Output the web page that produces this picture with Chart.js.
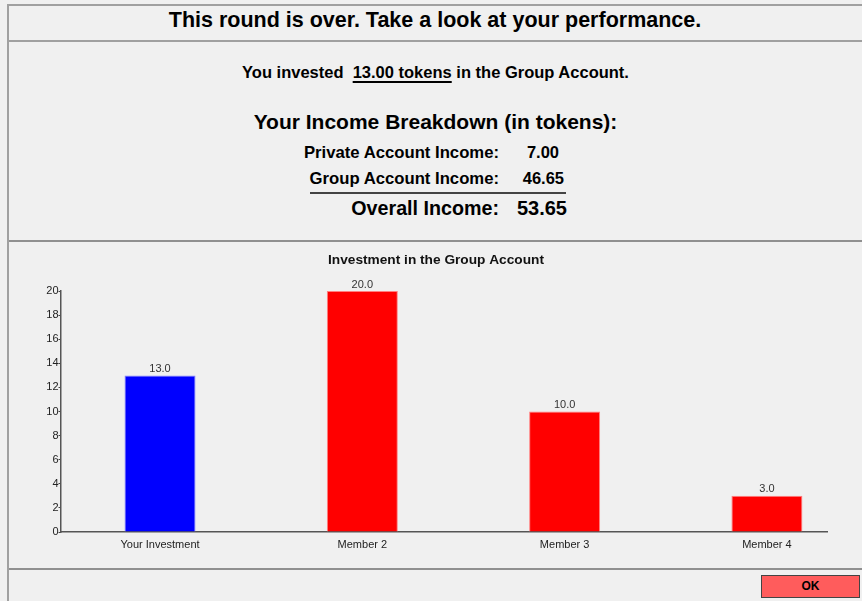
<!DOCTYPE html>
<html>
<head>
  <title>Round Results</title>
  <script src="https://cdn.jsdelivr.net/npm/chart.js"></script>
  <style>
    body { margin: 0; width: 862px; height: 601px; background: #f0f0f0; font-family: "Liberation Sans", Arial, sans-serif; overflow: hidden; position: relative; }
    .abs { position: absolute; }
    #topline { left: 8px; top: 4px; right: 0; height: 0; border-top: 2px solid #a0a0a0; }
    #leftline { left: 7px; top: 4px; bottom: 0; width: 0; border-left: 2px solid #a0a0a0; }
    #headline { left: 8px; top: 40px; right: 0; border-top: 2px solid #a0a0a0; }
    #div1 { left: 9px; top: 240px; right: 0; border-top: 2px solid #909090; }
    #div2 { left: 9px; top: 568px; right: 0; border-top: 2px solid #909090; }
    #title { left: 8px; right: 0; top: 8px; text-align: center; font-weight: bold; font-size: 21.5px; }
    #invested { left: 9px; right: 0; top: 63px; text-align: center; font-weight: bold; font-size: 16.5px; }
    #invested u { text-decoration-thickness: 2px; text-underline-offset: 3px; }
    #breakdown { left: 9px; right: 0; top: 110px; text-align: center; font-weight: bold; font-size: 21px; }
    .lbl { font-weight: bold; text-align: right; }
    #sumline { left: 310px; top: 192px; width: 256px; border-top: 2px solid #444; }
    #ok { left: 761px; top: 575px; width: 99px; height: 23px; background: #ff5c5c; border: 1px solid #444; box-sizing: border-box; text-align: center; font-weight: bold; font-size: 12px; line-height: 21px; }
    #chartbox { left: 10px; top: 242px; width: 852px; height: 325px; }
  </style>
</head>
<body>
  <div class="abs" id="topline"></div>
  <div class="abs" id="leftline"></div>
  <div class="abs" id="headline"></div>
  <div class="abs" id="title">This round is over. Take a look at your performance.</div>
  <div class="abs" id="invested">You invested &nbsp;<u>13.00 tokens</u> in the Group Account.</div>
  <div class="abs" id="breakdown">Your Income Breakdown (in tokens):</div>
  <div class="abs lbl" style="left:200px;width:299px;top:143px;font-size:16.7px;">Private Account Income:</div>
  <div class="abs lbl" style="left:500px;width:59px;top:143px;font-size:16.5px;">7.00</div>
  <div class="abs lbl" style="left:200px;width:299px;top:169px;font-size:16.7px;">Group Account Income:</div>
  <div class="abs lbl" style="left:500px;width:64px;top:169px;font-size:16.5px;">46.65</div>
  <div class="abs" id="sumline"></div>
  <div class="abs lbl" style="left:200px;width:299px;top:197px;font-size:19.7px;">Overall Income:</div>
  <div class="abs lbl" style="left:500px;width:67px;top:197px;font-size:20px;">53.65</div>
  <div class="abs" id="div1"></div>
  <div class="abs" id="chartbox"><canvas id="myChart" width="852" height="325"></canvas></div>
  <div class="abs" id="div2"></div>
  <div class="abs" id="ok">OK</div>

  <script>
// datos del grafico
const categories = ['Your Investment', 'Member 2', 'Member 3', 'Member 4'];
const investments = [13.0, 20.0, 10.0, 3.0];
const barColors = ['#0000ff', '#ff0000', '#ff0000', '#ff0000'];
const barEdges = ['#8080ff', '#ff8080', '#ff8080', '#ff8080'];
const yTicks = [0, 2, 4, 6, 8, 10, 12, 14, 16, 18, 20];

// etiquetas encima de cada barra
const valueLabels = {
  id: 'valueLabels',
  afterDatasetsDraw(chart) {
    const ctx = chart.ctx;
    const meta = chart.getDatasetMeta(0);
    ctx.save();
    ctx.font = '11px "Liberation Sans", Arial, sans-serif';
    ctx.fillStyle = '#333';
    ctx.textAlign = 'center';
    ctx.textBaseline = 'bottom';
    meta.data.forEach((bar, i) => {
      ctx.fillText(investments[i].toFixed(1), bar.x, bar.y - 1);
    });
    ctx.restore();
  }
};

const myChart = new Chart(document.getElementById('myChart'), {
  type: 'bar',
  data: {
    datasets: [{
      data: investments.map((v, i) => ({ x: i, y: v })),
      backgroundColor: barColors,
      borderColor: barEdges,
      borderWidth: 1,
      barPercentage: 0.351,
      categoryPercentage: 1
    }]
  },
  options: {
    responsive: false,
    animation: false,
    layout: { padding: { left: 35, right: 35, top: 0, bottom: 0 } },
    plugins: {
      legend: { display: false },
      tooltip: { enabled: false },
      title: {
        display: true,
        text: 'Investment in the Group Account',
        color: '#111',
        font: { family: '"Liberation Sans", Arial, sans-serif', size: 13.7, weight: 'bold' },
        padding: { top: 10, bottom: 22.6 }
      }
    },
    scales: {
      x: {
        type: 'linear',
        offset: false,
        min: -0.492,
        max: 3.297,
        afterBuildTicks: (s) => { s.ticks = categories.map((c, i) => ({ value: i })); },
        afterFit: (s) => { s.height = 35; },
        grid: { display: false, drawTicks: false },
        border: { display: true, color: '#555', width: 1.5 },
        ticks: {
          padding: 6,
          color: '#222',
          font: { family: '"Liberation Sans", Arial, sans-serif', size: 11 },
          callback: (v) => categories[v] || ''
        }
      },
      y: {
        min: 0,
        max: 20,
        afterBuildTicks: (s) => { s.ticks = []; for (let v = 0; v <= 20; v++) s.ticks.push({ value: v }); },
        afterFit: (s) => { s.width = 15.5; },
        grid: { display: true, drawOnChartArea: false, drawTicks: true, tickLength: 2, color: '#444' },
        border: { display: true, color: '#555', width: 1.5 },
        ticks: {
          padding: 0,
          color: '#222',
          font: { family: '"Liberation Sans", Arial, sans-serif', size: 11 },
          callback: (v) => yTicks.includes(v) ? String(v) : ''
        }
      }
    }
  },
  plugins: [valueLabels]
});
  </script>
</body>
</html>
